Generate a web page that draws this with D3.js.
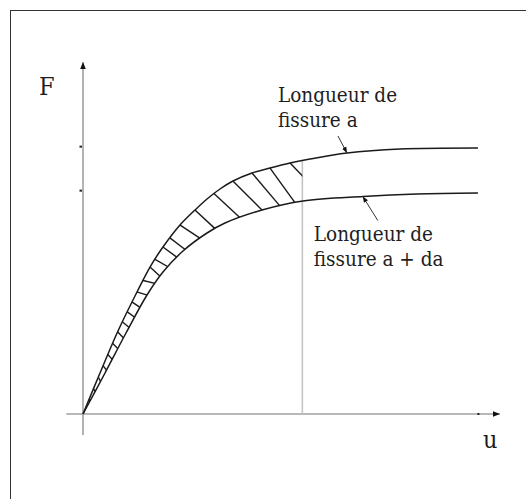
<!DOCTYPE html>
<html>
<head>
<meta charset="utf-8">
<script src="https://cdn.jsdelivr.net/npm/d3@7"></script>
<style>
  body { margin: 0; background: #fff; }
  svg { display: block; }
</style>
</head>
<body>
<svg width="526" height="499"></svg>
<script>
// DATA (u, F in arbitrary units)
// crack length a (upper curve)
var uA = [0, 4.08, 8.39, 12.95, 16.07, 19.18, 23.26, 26.86, 29.74, 32.85, 35.97, 40.53, 44.84, 49.64, 54.44, 63.31, 76.02, 94.72];
var fA = [0, 11.65, 23.58, 34.66, 41.76, 47.44, 53.69, 57.95, 61.08, 63.92, 66.19, 68.47, 69.89, 71.31, 72.44, 74.15, 75.28, 75.57];
// crack length a + da (lower curve)
var uB = [0, 5.28, 10.31, 15.35, 19.18, 23.98, 29.74, 34.05, 42.93, 52.76, 67.15, 80.10, 94.72];
var fB = [0, 11.65, 23.01, 33.81, 40.34, 46.31, 51.42, 54.26, 57.95, 60.51, 61.79, 62.50, 62.78];

var uCut = 52.6;          // displacement where the crack grows
var yTicks = [76.1, 63.6];
var xTicks = [94.7];

// hatch segments: start u on upper curve, end u on lower curve
var hatchFrom = [49.64, 44.84, 40.53, 35.97, 31.41, 26.86, 23.26, 20.86, 19.18, 17.27, 16.07, 14.39, 12.95, 11.77, 10.62, 9.45, 8.30, 7.12, 5.97, 4.82, 3.67, 2.52, 1.46];
var hatchTo   = [58.00, 50.84, 47.24, 42.93, 37.65, 31.65, 28.06, 24.46, 22.54, 20.38, 18.47, 17.27, 15.35, 13.70, 12.40, 11.05, 9.70, 8.35, 7.00, 5.64, 4.20, 2.90, 1.70];

// labels and their pointers (u of the pointed curve point)
var labelA = ["Longueur de", "fissure a"];
var labelB = ["Longueur de", "fissure a + da"];
var pointerA = 63.3;
var pointerB = 67.1;

// SETUP
var serif = "'DejaVu Serif Condensed', 'DejaVu Serif', serif";
var svg = d3.select("svg");
var x = d3.scaleLinear().domain([0, 100]).range([83, 500]);
var y = d3.scaleLinear().domain([0, 100]).range([414, 62]);

function interp(us, fs, u) {
  var i = Math.max(1, Math.min(us.length - 1, d3.bisectRight(us, u)));
  var t = (u - us[i - 1]) / (us[i] - us[i - 1]);
  return fs[i - 1] + t * (fs[i] - fs[i - 1]);
}

var ptsA = uA.map(function (u, i) { return [u, fA[i]]; });
var ptsB = uB.map(function (u, i) { return [u, fB[i]]; });

var line = d3.line()
  .x(function (d) { return x(d[0]); })
  .y(function (d) { return y(d[1]); })
  .curve(d3.curveCatmullRom.alpha(0.5));

// frame
svg.append("rect")
  .attr("x", 10.5).attr("y", 10.5)
  .attr("width", 540).attr("height", 520)
  .attr("fill", "none").attr("stroke", "#333").attr("stroke-width", 1);

var defs = svg.append("defs");
defs.append("marker")
  .attr("id", "arr")
  .attr("viewBox", "0 0 10 10")
  .attr("refX", 10).attr("refY", 5)
  .attr("markerWidth", 7).attr("markerHeight", 7)
  .attr("markerUnits", "userSpaceOnUse")
  .attr("orient", "auto")
  .append("path").attr("d", "M0,1L10,5L0,9Z").attr("fill", "#111");
defs.append("marker")
  .attr("id", "arrSmall")
  .attr("viewBox", "0 0 10 10")
  .attr("refX", 10).attr("refY", 5)
  .attr("markerWidth", 6).attr("markerHeight", 6)
  .attr("markerUnits", "userSpaceOnUse")
  .attr("orient", "auto")
  .append("path").attr("d", "M0,1L10,5L0,9Z").attr("fill", "#111");

// clip = band between the two curves, left of uCut
var band = line(ptsA) + line(ptsB.slice().reverse()).replace("M", "L") + "Z";
defs.append("clipPath").attr("id", "band").append("path").attr("d", band);
defs.append("clipPath").attr("id", "left")
  .append("rect")
  .attr("x", 0).attr("y", 0)
  .attr("width", x(uCut)).attr("height", 499);

// axes
svg.append("line")
  .attr("x1", x(-4)).attr("y1", y(0))
  .attr("x2", x(100)).attr("y2", y(0))
  .attr("stroke", "#a0a0a0").attr("stroke-width", 1.6)
  .attr("marker-end", "url(#arr)");
svg.append("line")
  .attr("x1", x(0)).attr("y1", y(-6))
  .attr("x2", x(0)).attr("y2", y(100))
  .attr("stroke", "#a0a0a0").attr("stroke-width", 1.6)
  .attr("marker-end", "url(#arr)");

var yAxis = svg.append("g")
  .attr("transform", "translate(" + (x(0) - 1) + ",0)")
  .call(d3.axisLeft(y).tickValues(yTicks).tickSize(2.5).tickFormat(""));
yAxis.select(".domain").remove();
yAxis.selectAll("line").attr("stroke", "#222").attr("stroke-width", 2);

var xAxis = svg.append("g")
  .attr("transform", "translate(0," + (y(0) - 1) + ")")
  .call(d3.axisBottom(x).tickValues(xTicks).tickSize(2).tickFormat(""));
xAxis.select(".domain").remove();
xAxis.selectAll("line").attr("stroke", "#222").attr("stroke-width", 2);

// vertical line at uCut
svg.append("line")
  .attr("x1", x(uCut)).attr("y1", y(interp(uA, fA, uCut)))
  .attr("x2", x(uCut)).attr("y2", y(0))
  .attr("stroke", "#c4c4c4").attr("stroke-width", 1.6);

// hatching
var hg = svg.append("g").attr("clip-path", "url(#left)")
  .append("g").attr("clip-path", "url(#band)");
hg.selectAll(".hatch")
  .data(hatchFrom.map(function (u, i) { return [u, hatchTo[i]]; }))
  .enter().append("line")
  .attr("class", "hatch")
  .each(function (d) {
    var x1 = x(d[0]), y1 = y(interp(uA, fA, d[0]));
    var x2 = x(d[1]), y2 = y(interp(uB, fB, d[1]));
    var dx = x2 - x1, dy = y2 - y1, L = Math.sqrt(dx * dx + dy * dy), e = 3 / L;
    d3.select(this)
      .attr("x1", x1 - dx * e).attr("y1", y1 - dy * e)
      .attr("x2", x2 + dx * e).attr("y2", y2 + dy * e);
  })
  .attr("stroke", "#1a1a1a").attr("stroke-width", 1.4);

// curves
svg.selectAll(".curve")
  .data([ptsA, ptsB])
  .enter().append("path")
  .attr("class", "curve")
  .attr("d", line)
  .attr("fill", "none")
  .attr("stroke", "#1a1a1a")
  .attr("stroke-width", 1.5);

// pointers
var pA = [x(pointerA), y(interp(uA, fA, pointerA))];
var pB = [x(pointerB), y(interp(uB, fB, pointerB))];
svg.append("line")
  .attr("x1", pA[0] - 9).attr("y1", pA[1] - 17)
  .attr("x2", pA[0]).attr("y2", pA[1])
  .attr("stroke", "#333").attr("stroke-width", 1)
  .attr("marker-end", "url(#arrSmall)");
svg.append("line")
  .attr("x1", pB[0] + 15).attr("y1", pB[1] + 24)
  .attr("x2", pB[0]).attr("y2", pB[1])
  .attr("stroke", "#333").attr("stroke-width", 1)
  .attr("marker-end", "url(#arrSmall)");

// texts
function label(lines, lx, ly) {
  svg.append("text")
    .attr("x", lx).attr("y", ly)
    .attr("font-family", serif)
    .attr("font-stretch", "condensed")
    .attr("font-size", 20.5)
    .attr("fill", "#1e1e1e")
    .selectAll("tspan")
    .data(lines)
    .enter().append("tspan")
    .attr("x", lx)
    .attr("dy", function (d, i) { return i ? 25 : 0; })
    .text(function (d) { return d; });
}
label(labelA, pA[0] - 69, pA[1] - 51);
label(labelB, pB[0] - 49, pB[1] + 44);

svg.append("text").attr("x", 39).attr("y", 95)
  .attr("font-family", serif).attr("font-size", 25)
  .attr("fill", "#1e1e1e").text("F");
svg.append("text").attr("x", 483).attr("y", 448)
  .attr("font-family", serif).attr("font-size", 25)
  .attr("fill", "#1e1e1e").text("u");
</script>
</body>
</html>
